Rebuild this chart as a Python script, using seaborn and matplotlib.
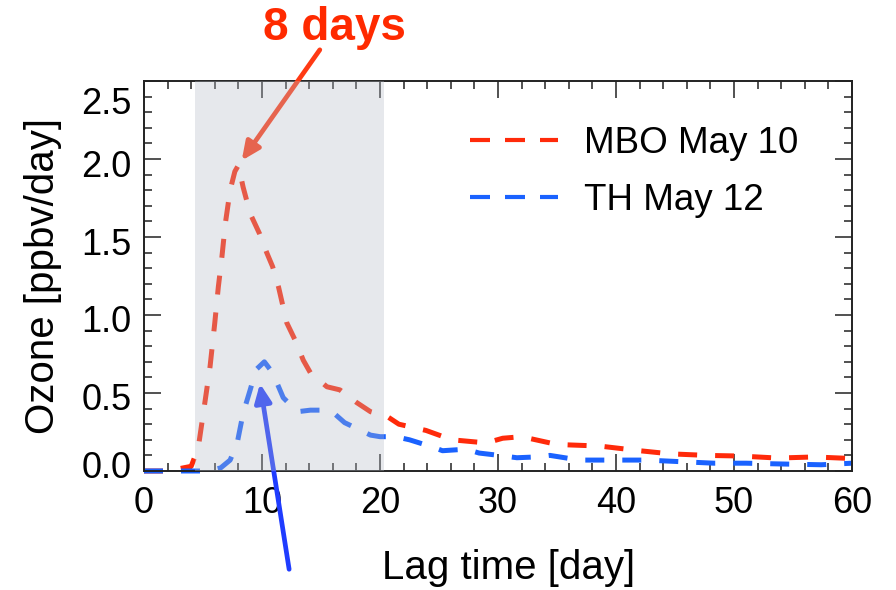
import numpy as np
import pandas as pd
import seaborn as sns
import matplotlib.transforms as mtransforms
from matplotlib import pyplot as plt
from matplotlib.ticker import MultipleLocator

# values
mbo_days = [0, 2, 4, 4.6, 5.2, 5.6, 6.0, 6.3, 6.6, 6.9, 7.3, 7.7, 8.0, 8.4, 9.0, 9.8,
            10.4, 10.9, 11.4, 12.1, 12.8, 13.5, 14.1, 15.5, 16.6, 18.0, 19.2, 20.6,
            21.6, 23.9, 26.1, 29.0, 30.4, 32.0, 35.0, 38.6, 42.0, 44.6, 47.7, 50.5,
            53.7, 56.8, 60]
mbo_ozone = [0.0, 0.0, 0.03, 0.15, 0.46, 0.67, 0.95, 1.18, 1.37, 1.59, 1.8, 1.92, 1.96,
             1.82, 1.65, 1.52, 1.4, 1.31, 1.18, 0.95, 0.84, 0.71, 0.63, 0.54, 0.52,
             0.44, 0.38, 0.35, 0.3, 0.26, 0.2, 0.18, 0.21, 0.22, 0.17, 0.16, 0.13,
             0.11, 0.1, 0.096, 0.083, 0.09, 0.08]

th_days = [0, 2, 4, 5.5, 6.5, 7.3, 7.9, 8.4, 9.0, 9.5, 10.2, 10.9, 11.8, 13.0, 14.1,
           15.8, 17.0, 19.2, 20.0, 21.3, 22.5, 24.4, 25.3, 27.3, 28.4, 30.1, 31.6,
           33.2, 34.4, 36.9, 39.7, 42.6, 45.4, 48.3, 51.0, 54.0, 57.4, 60]
th_ozone = [0.0, 0.0, 0.0, 0.0, 0.02, 0.07, 0.18, 0.37, 0.52, 0.65, 0.7, 0.63, 0.47,
            0.38, 0.39, 0.39, 0.31, 0.23, 0.22, 0.22, 0.2, 0.155, 0.13, 0.14, 0.115,
            0.1, 0.085, 0.09, 0.1, 0.07, 0.07, 0.07, 0.06, 0.05, 0.05, 0.045, 0.04,
            0.05]

series_labels = ['MBO May 10', 'TH May 12']
y_ticks = [0.0, 0.5, 1.0, 1.5, 2.0, 2.5]
x_ticks = [0, 10, 20, 30, 40, 50, 60]
shade_span = (4.3, 20.3)
peak_text = '8 days'

sns.set_style('ticks')
plt.rcParams['font.family'] = ['Liberation Sans', 'DejaVu Sans']
plt.rcParams['text.color'] = 'black'
plt.rcParams['axes.labelcolor'] = 'black'

fig = plt.figure(figsize=(8.96, 5.9), dpi=100)
ax = fig.add_axes([0.1607, 0.2017, 0.7902, 0.661])

red = '#ff2a0a'
blue = '#1a62ff'
dash = (0, (3.8, 3.6))
mbo = pd.DataFrame({'day': mbo_days, 'ozone': mbo_ozone})
th = pd.DataFrame({'day': th_days, 'ozone': th_ozone})
sns.lineplot(data=mbo, x='day', y='ozone', ax=ax, color=red, lw=3.6,
             linestyle=dash, label=series_labels[0], clip_on=False)
sns.lineplot(data=th, x='day', y='ozone', ax=ax, color=blue, lw=3.6,
             linestyle=dash, label=series_labels[1], clip_on=False)

ax.set_xlim(0, 60)
ax.set_ylim(0, 2.5)
ax.set_xticks(x_ticks)
ax.set_yticks(y_ticks)
ax.set_yticklabels(['%.1f' % v for v in y_ticks])
ax.xaxis.set_minor_locator(MultipleLocator(2))
ax.yaxis.set_minor_locator(MultipleLocator(0.1))
ax.tick_params(which='both', direction='in', top=True, right=True, width=1.1,
               color='#222222', labelsize=26, labelcolor='black')
ax.tick_params(which='major', length=12)
ax.tick_params(which='minor', length=6)
ax.tick_params(axis='x', pad=11)
ax.tick_params(axis='y', pad=9)
for s in ax.spines.values():
    s.set_linewidth(1.4)
    s.set_color('#222222')

# end labels pushed inward a little, as in the original
shifts = [-6, 4, 3, 4, 4, 19]
for lab, dy in zip(ax.get_yticklabels(), shifts):
    off = mtransforms.ScaledTranslation(0, -dy / 100, fig.dpi_scale_trans)
    lab.set_transform(lab.get_transform() + off)

ax.set_xlabel('Lag time [day]', fontsize=29)
ax.set_ylabel('Ozone [ppbv/day]', fontsize=29, labelpad=14)
ax.xaxis.set_label_coords(0.515, -0.2)

# annotation arrows
ax.annotate('', xy=(8.28, 1.99), xytext=(14.9, 2.70), annotation_clip=False,
            arrowprops=dict(arrowstyle='-|>,head_length=1.1,head_width=0.5',
                            color='#ff3a14', lw=3.4, shrinkA=0, shrinkB=0))
ax.annotate('', xy=(9.83, 0.56), xytext=(12.3, -0.63), annotation_clip=False,
            arrowprops=dict(arrowstyle='-|>,head_length=1.1,head_width=0.5',
                            color='#1f3cff', lw=3.4, shrinkA=0, shrinkB=0))
fig.text(334 / 896, 1 - 28 / 590, peak_text, color='#ff2a00', fontsize=33,
         fontweight='bold', ha='center', va='center')

# shaded window drawn on top of the lines
ax.axvspan(*shade_span, color='#b4bac6', alpha=0.33, lw=0, zorder=5)

leg = ax.legend(loc='upper left', bbox_to_anchor=(0.46, 0.885), frameon=False,
                fontsize=26.5, handlelength=2.4, handletextpad=0.7,
                labelspacing=0.6, borderpad=0, borderaxespad=0)
for h in leg.get_lines():
    h.set_linewidth(3)
    h.set_linestyle((0, (4.8, 3.6)))

fig.savefig('out.png', dpi=100)
